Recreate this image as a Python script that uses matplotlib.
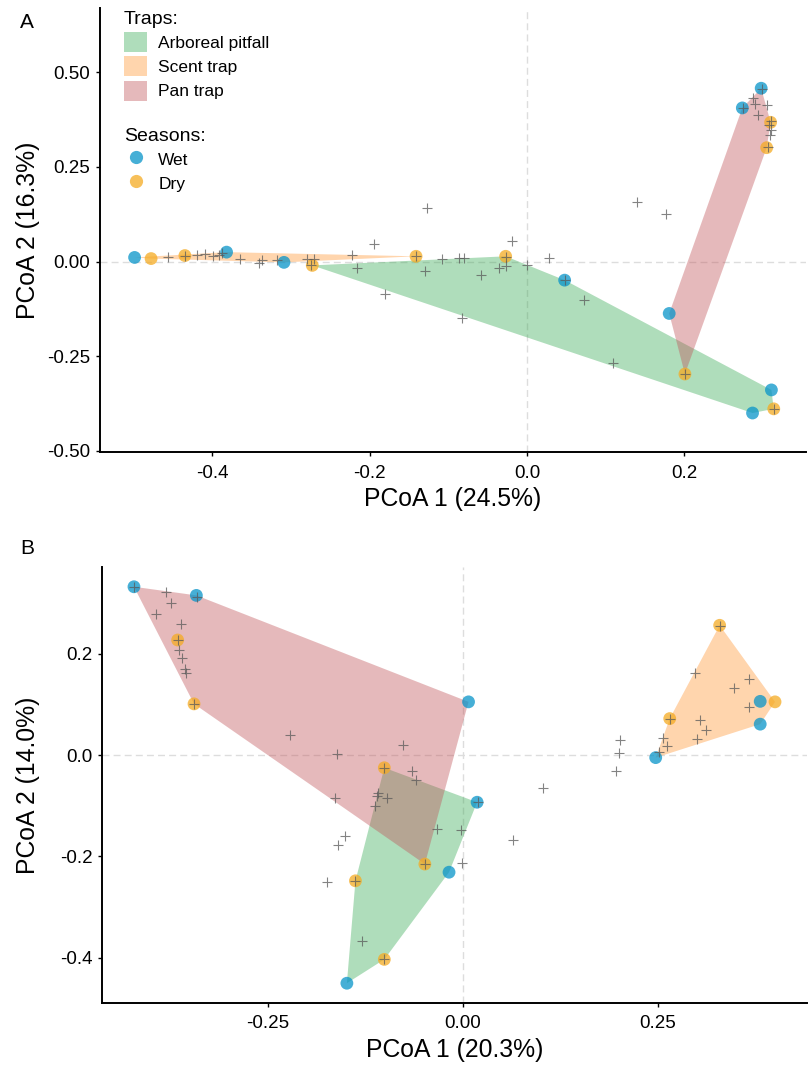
import matplotlib.pyplot as plt
from matplotlib.patches import Patch, Polygon
from matplotlib.lines import Line2D
import numpy as np

plt.rcParams['font.family'] = ['Liberation Sans', 'DejaVu Sans']

# ---- data ----
trap_names = ['Arboreal pitfall', 'Scent trap', 'Pan trap']
season_names = ['Wet', 'Dry']

# panel A: sites
a_site_x = [-0.499, -0.382, -0.309, 0.048, 0.311, 0.287, 0.181, 0.274, 0.298,
            -0.478, -0.435, -0.141, -0.273, -0.027, 0.314, 0.201, 0.310, 0.305]
a_site_y = [0.011, 0.025, -0.002, -0.049, -0.339, -0.400, -0.137, 0.406, 0.458,
            0.008, 0.016, 0.014, -0.010, 0.014, -0.389, -0.297, 0.368, 0.301]
a_site_season = ['Wet'] * 9 + ['Dry'] * 9
a_site_trap = ['Scent trap'] * 3 + ['Arboreal pitfall'] * 3 + ['Pan trap'] * 3 + \
              ['Scent trap'] * 3 + ['Arboreal pitfall'] * 3 + ['Pan trap'] * 3

# panel A: species scores
a_sp_x = [-0.435, -0.274, -0.141, -0.026, 0.049, 0.201, 0.299, 0.275, 0.311, 0.307, 0.314,
          -0.456, -0.420, -0.409, -0.399, -0.392, -0.388, -0.365, -0.341, -0.337, -0.318,
          -0.280, -0.271, -0.222, -0.216, -0.195, -0.127, -0.180, -0.129, -0.108, -0.087,
          -0.080, -0.083, -0.058, -0.036, -0.026, -0.019, 0.000, 0.028, 0.073, 0.109,
          0.140, 0.177, 0.287, 0.290, 0.306, 0.294, 0.308, 0.310, 0.309]
a_sp_y = [0.016, -0.010, 0.014, 0.013, -0.049, -0.297, 0.457, 0.406, 0.371, 0.302, -0.389,
          0.012, 0.017, 0.020, 0.014, 0.017, 0.024, 0.007, -0.005, 0.004, 0.003,
          0.007, 0.008, 0.018, -0.017, 0.047, 0.141, -0.085, -0.025, 0.006, 0.009,
          0.009, -0.148, -0.035, -0.017, -0.011, 0.055, -0.008, 0.010, -0.102, -0.267,
          0.157, 0.125, 0.432, 0.416, 0.415, 0.387, 0.361, 0.349, 0.334]

# panel B: sites
b_site_x = [-0.422, -0.342, 0.007, 0.018, -0.018, -0.149, 0.247, 0.381, 0.381,
            -0.366, -0.345, -0.049, -0.101, -0.138, -0.101, 0.329, 0.265, 0.400]
b_site_y = [0.332, 0.315, 0.105, -0.093, -0.231, -0.450, -0.005, 0.106, 0.061,
            0.227, 0.101, -0.215, -0.025, -0.248, -0.403, 0.256, 0.072, 0.105]
b_site_season = ['Wet'] * 9 + ['Dry'] * 9
b_site_trap = ['Pan trap'] * 3 + ['Arboreal pitfall'] * 3 + ['Scent trap'] * 3 + \
              ['Pan trap'] * 3 + ['Arboreal pitfall'] * 3 + ['Scent trap'] * 3

# panel B: species scores
b_sp_x = [-0.422, -0.341, -0.366, -0.345, -0.101, 0.019, -0.049, -0.138, -0.101, 0.329, 0.265,
          -0.381, -0.374, -0.394, -0.362, -0.364, -0.360, -0.356, -0.355,
          -0.222, -0.162, -0.077, -0.065, -0.061, -0.109, -0.111, -0.098, -0.164, -0.113,
          -0.033, -0.003, -0.151, -0.160, 0.064, -0.002, -0.174, -0.129, 0.102,
          0.201, 0.200, 0.196, 0.297, 0.367, 0.347, 0.366, 0.304, 0.312, 0.300, 0.256, 0.262, 0.251]
b_sp_y = [0.331, 0.312, 0.227, 0.101, -0.025, -0.093, -0.215, -0.248, -0.403, 0.255, 0.072,
          0.322, 0.300, 0.278, 0.259, 0.208, 0.192, 0.169, 0.162,
          0.039, 0.003, 0.020, -0.031, -0.049, -0.074, -0.080, -0.085, -0.085, -0.100,
          -0.146, -0.147, -0.159, -0.178, -0.167, -0.213, -0.250, -0.367, -0.064,
          0.029, 0.005, -0.032, 0.162, 0.150, 0.132, 0.094, 0.069, 0.049, 0.032, 0.033, 0.018, 0.006]

# ---- styles ----
trap_colors = {'Arboreal pitfall': '#39AA55', 'Scent trap': '#FF9634', 'Pan trap': '#C05257'}
season_colors = {'Wet': '#0894C9', 'Dry': '#F5AB23'}


def convex_hull(pts):
    pts = sorted(set(pts))
    if len(pts) < 3:
        return pts

    def cross(o, a, b):
        return (a[0] - o[0]) * (b[1] - o[1]) - (a[1] - o[1]) * (b[0] - o[0])
    lower, upper = [], []
    for p in pts:
        while len(lower) >= 2 and cross(lower[-2], lower[-1], p) <= 0:
            lower.pop()
        lower.append(p)
    for p in reversed(pts):
        while len(upper) >= 2 and cross(upper[-2], upper[-1], p) <= 0:
            upper.pop()
        upper.append(p)
    return lower[:-1] + upper[:-1]


def draw_panel(ax, sx, sy, season, trap, px, py):
    ax.axhline(0, color='#DDDDDD', lw=1, ls=(0, (5, 3)), zorder=0)
    ax.axvline(0, color='#DDDDDD', lw=1, ls=(0, (5, 3)), zorder=0)
    for t in trap_names:
        pts = [(x, y) for x, y, tt in zip(sx, sy, trap) if tt == t]
        hull = convex_hull(pts)
        ax.add_patch(Polygon(hull, closed=True, facecolor=trap_colors[t],
                             edgecolor='none', alpha=0.4, zorder=1))
    for s in season_names:
        xs = [x for x, ss in zip(sx, season) if ss == s]
        ys = [y for y, ss in zip(sy, season) if ss == s]
        ax.scatter(xs, ys, s=85, color=season_colors[s], alpha=0.75,
                   edgecolors='none', zorder=2)
    ax.scatter(px, py, marker='+', s=45, color='#5a5a5a', alpha=0.75,
               linewidths=0.8, zorder=3)
    for side in ['top', 'right']:
        ax.spines[side].set_visible(False)
    for side in ['left', 'bottom']:
        ax.spines[side].set_linewidth(1.4)
    ax.tick_params(length=3, width=1.0, labelsize=13.5, colors='black')
    ax.tick_params(axis='x', pad=6)
    ax.tick_params(axis='y', pad=4)


fig = plt.figure(figsize=(8.09, 10.66), dpi=100)

axA = fig.add_axes([100 / 809, 1 - 452 / 1066, 706 / 809, 444 / 1066])
draw_panel(axA, a_site_x, a_site_y, a_site_season, a_site_trap, a_sp_x, a_sp_y)
axA.set_xlim(-0.543, 0.355)
axA.set_ylim(-0.503, 0.67)
axA.set_xticks([-0.4, -0.2, 0.0, 0.2])
axA.set_xticklabels(['-0.4', '-0.2', '0.0', '0.2'])
axA.set_yticks([-0.5, -0.25, 0.0, 0.25, 0.5])
axA.set_yticklabels(['-0.50', '-0.25', '0.00', '0.25', '0.50'])
axA.set_xlabel('PCoA 1 (24.5%)', fontsize=17.8, labelpad=4)
axA.set_ylabel('PCoA 2 (16.3%)', fontsize=17.8)
axA.yaxis.set_label_coords(-0.085, 0.5)

axB = fig.add_axes([102 / 809, 1 - 1003 / 1066, 705 / 809, 436 / 1066])
draw_panel(axB, b_site_x, b_site_y, b_site_season, b_site_trap, b_sp_x, b_sp_y)
axB.set_xlim(-0.463, 0.441)
axB.set_ylim(-0.489, 0.371)
axB.set_xticks([-0.25, 0.0, 0.25])
axB.set_xticklabels(['-0.25', '0.00', '0.25'])
axB.set_yticks([-0.4, -0.2, 0.0, 0.2])
axB.set_yticklabels(['-0.4', '-0.2', '0.0', '0.2'])
axB.set_xlabel('PCoA 1 (20.3%)', fontsize=17.8, labelpad=4)
axB.set_ylabel('PCoA 2 (14.0%)', fontsize=17.8)
axB.yaxis.set_label_coords(-0.088, 0.5)

# legends inside panel A
trap_handles = [Patch(facecolor=trap_colors[t], alpha=0.4, edgecolor='none', label=t)
                for t in trap_names]
leg1 = axA.legend(handles=trap_handles, title='Traps:', loc='upper left',
                  bbox_to_anchor=(124 / 809, 1 - 11 / 1066), bbox_transform=fig.transFigure,
                  frameon=False, fontsize=12.5, title_fontsize=14, alignment='left',
                  handlelength=1.35, handleheight=1.4, handletextpad=0.62,
                  labelspacing=0.24, borderpad=0, borderaxespad=0)
axA.add_artist(leg1)
season_handles = [Line2D([], [], marker='o', ls='none', markersize=9.5,
                         markerfacecolor=season_colors[s], markeredgecolor='none',
                         alpha=0.75, label=s) for s in season_names]
axA.legend(handles=season_handles, title='Seasons:', loc='upper left',
           bbox_to_anchor=(124 / 809, 1 - 128 / 1066), bbox_transform=fig.transFigure,
           frameon=False, fontsize=12.5, title_fontsize=14, alignment='left',
           handlelength=1.35, handleheight=1.4, handletextpad=0.62,
           labelspacing=0.24, borderpad=0, borderaxespad=0)

fig.text(27 / 809, 1 - 22 / 1066, 'A', fontsize=15, ha='center', va='center')
fig.text(27 / 809, 1 - 549 / 1066, 'B', fontsize=15, ha='center', va='center')

fig.savefig('out.png', dpi=100)
